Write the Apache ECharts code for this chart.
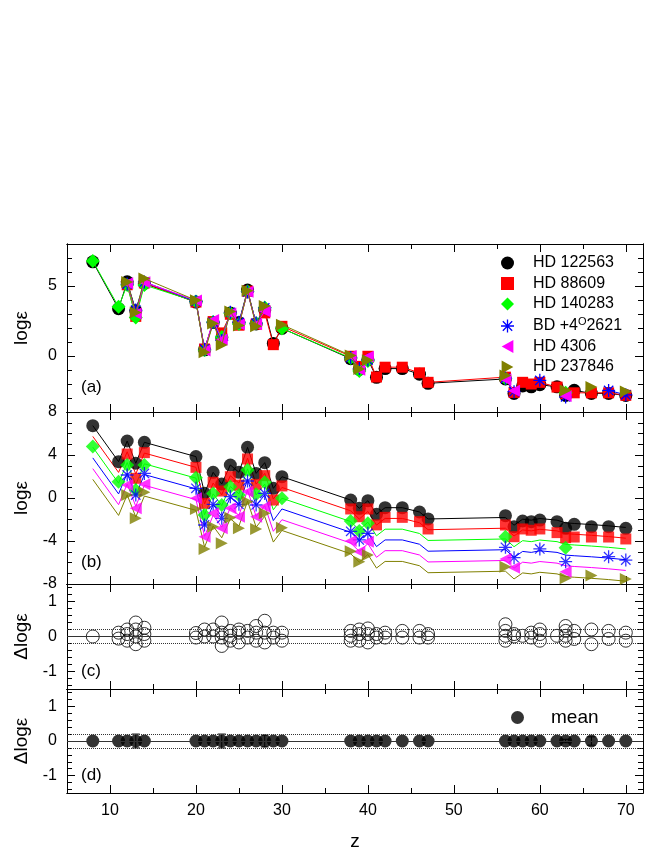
<!DOCTYPE html>
<html>
<head>
<meta charset="utf-8">
<script src="https://cdn.jsdelivr.net/npm/echarts@6/dist/echarts.min.js"></script>
<style>
html, body { margin: 0; padding: 0; background: #fff; }
#chart { width: 664px; height: 853px; }
</style>
</head>
<body>
<div id="chart"></div>
<script>
// atomic numbers
var zList = [8, 11, 12, 13, 14, 20, 21, 22, 23, 24, 25, 26, 27, 28, 29, 30,
  38, 39, 40, 41, 42, 44, 46, 47, 56, 57, 58, 59, 60, 62, 63, 64, 66, 68, 70];

// log eps per star (null = not measured), same order as zList
var hd122563 = [6.73, 3.38, 5.30, 3.23, 5.18, 3.85, 0.44, 2.39, 1.30, 3.07, 2.39, 4.71, 2.29, 3.29, 0.90, 1.98,
  -0.19, -0.96, -0.25, -1.52, -0.90, -0.90, -1.30, -1.95, -1.64, -2.67, -2.14, -2.20, -2.05, -2.20, -2.82, -2.45, -2.67, -2.67, -2.82];
var hd88609 = [null, null, 5.09, 2.83, 5.22, 3.85, 0.50, 2.46, 1.65, 2.98, 2.20, 4.63, 2.27, 3.08, 0.81, 2.12,
  -0.02, -0.74, -0.02, -1.50, -0.80, -0.80, -1.20, -1.88, -1.51, -2.60, -1.88, -2.00, -1.88, -2.22, -2.69, -2.63, -2.63, -2.63, -2.81];
var hd140283 = [6.78, 3.52, 5.07, 2.75, 5.07, 3.89, 0.42, 2.43, 1.35, 3.05, 2.28, 4.60, 2.34, 3.46, null, 1.97,
  -0.14, -1.07, -0.36, null, null, null, null, null, -1.60, null, null, null, null, null, -2.62, null, null, null, null];
var bd4_2621 = [null, null, 5.14, 3.28, 5.29, 3.90, 0.49, 2.41, 1.11, 3.12, 2.41, 4.58, 2.35, 3.43, null, null,
  -0.10, -0.90, -0.29, null, null, null, null, null, -1.59, -2.55, null, null, -1.74, null, -2.92, null, null, -2.46, -2.77];
var hd4306 = [null, null, 5.20, 3.04, 5.27, 3.97, 0.40, 2.57, 1.18, 3.04, 2.26, 4.59, 2.26, 3.19, null, null,
  0.00, -0.99, -0.06, null, null, null, null, null, -1.67, -2.48, null, null, null, null, -2.85, null, null, null, null];
var hd237846 = [null, null, 5.28, 3.11, 5.53, 3.98, 0.26, 2.33, 0.78, 3.17, 2.18, 4.66, 2.12, 3.57, null, 2.24,
  0.04, -0.92, -0.30, null, null, null, null, null, -1.39, null, null, null, null, null, -2.47, null, -2.22, null, -2.53];

// scaled pattern drawn as lines in panel (b)
var patternLine = [6.73, 3.38, 5.30, 3.23, 5.18, 3.85, 0.44, 2.39, 1.30, 3.07, 2.39, 4.71, 2.29, 3.29, 0.90, 1.98,
  -0.19, -0.96, -0.25, -1.52, -0.90, -0.90, -1.30, -1.95, -1.81, -2.53, -1.97, -2.06, -1.91, -2.06, -2.31, -2.37, -2.47, -2.59, -2.74];

// vertical shifts used in panel (b)
var shifts = [0, -1, -2, -3, -4, -5];

// panel (c): residuals at each Z
var residuals = [[0.0], [0.11, -0.06], [0.2, 0.07, -0.12], [0.4, 0.2, 0.0, -0.22], [0.25, 0.07, -0.12],
  [0.1, -0.03], [0.2, 0.0], [0.2, 0.0], [0.4, 0.11, -0.03, -0.27], [0.16, 0.02, -0.12],
  [0.2, 0.11, -0.17], [0.16, -0.03], [0.3, 0.11, -0.12], [0.45, 0.11, -0.17], [0.11, -0.03], [0.11, -0.12],
  [0.16, 0.02, -0.12], [0.2, 0.07, -0.12], [0.23, 0.07, -0.17], [0.07, -0.03], [0.11, -0.03],
  [0.16, -0.03], [0.16, -0.03], [0.07, -0.03],
  [0.35, 0.16, 0.02, -0.12], [0.07, 0.0], [0.02], [0.11, -0.03], [0.2, 0.07, -0.12], [0.02],
  [0.3, 0.16, 0.02, -0.12], [0.16, -0.07], [0.2, -0.22], [0.16, -0.07], [0.11, -0.12]];

// panel (d): mean residual and error
var meanVals = [0, 0, 0, 0, 0, 0, 0, 0, 0, 0, 0, 0, 0, 0, 0, 0,
  0, 0, 0, 0, 0, 0, 0, 0, 0, 0, 0, 0, 0, 0, 0, 0, 0, 0, 0];
var meanErr = [null, null, null, 0.2, null, null, null, null, 0.2, null, null, null, null, 0.17, null, null,
  null, null, null, null, null, null, null, null, null, null, null, null, null, null, 0.05, null, 0.12, null, null];

var starNames = ['HD 122563', 'HD 88609', 'HD 140283', 'BD +4\u00b02621', 'HD 4306', 'HD 237846'];
var starData = [hd122563, hd88609, hd140283, bd4_2621, hd4306, hd237846];
var colors = ['#000000', '#ff0000', '#00ff00', '#0000ff', '#ff00ff', '#808000'];
var asterisk = 'path://M0,9L20,9L20,11L0,11Z M9,0L11,0L11,20L9,20Z M2.1,3.5L3.5,2.1L17.9,16.5L16.5,17.9Z M16.5,2.1L17.9,3.5L3.5,17.9L2.1,16.5Z';
var symbols = ['circle', 'rect', 'diamond', asterisk, 'path://M0,5L9,0L9,10Z', 'path://M9,5L0,0L0,10Z'];
var sizes = [13, 11, 14, 13, 12, 12];

var FONT = 'Liberation Sans';
var grids = [
  { left: 67, width: 576, top: 244, height: 168 },
  { left: 67, width: 576, top: 412, height: 172 },
  { left: 67, width: 576, top: 584, height: 105 },
  { left: 67, width: 576, top: 689, height: 104 }
];

function range(a, b, step) {
  var out = [];
  for (var v = a; v <= b + 1e-9; v += step) out.push(Math.round(v * 100) / 100);
  return out;
}
function without(list, skip) {
  return list.filter(function (v) { return skip.indexOf(v) < 0; });
}

var xMajor = range(10, 70, 10);
var xMinor = range(5, 65, 10);
var xAxes = [];
var yAxes = [];

function addX(gi, pos, ticks, len, labels, name) {
  xAxes.push({
    gridIndex: gi, type: 'value', min: 5, max: 72, position: pos,
    name: name || '', nameLocation: 'middle', nameGap: 39,
    nameTextStyle: { fontFamily: FONT, fontSize: 19, color: '#000' },
    axisLine: { show: true, onZero: false, lineStyle: { color: '#000', width: 1 } },
    axisTick: { show: true, inside: true, length: len, customValues: ticks, lineStyle: { color: '#000' } },
    axisLabel: labels ? { show: true, customValues: labels, margin: 10, fontFamily: FONT, fontSize: 16, color: '#000' } : { show: false },
    splitLine: { show: false }
  });
}
function addY(gi, pos, min, max, ticks, len, labels, name) {
  yAxes.push({
    gridIndex: gi, type: 'value', min: min, max: max, position: pos,
    name: name || '', nameLocation: 'middle', nameGap: 36, nameRotate: 90,
    nameTextStyle: { fontFamily: FONT, fontSize: 19, color: '#000' },
    axisLine: { show: true, onZero: false, lineStyle: { color: '#000', width: 1 } },
    axisTick: { show: true, inside: true, length: len, customValues: ticks, lineStyle: { color: '#000' } },
    axisLabel: labels ? { show: true, customValues: labels, margin: 10, fontFamily: FONT, fontSize: 16, color: '#000' } : { show: false },
    splitLine: { show: false }
  });
}

var ySpecs = [
  { min: -4, max: 8, major: [0, 5], minor: without(range(-3, 7, 1), [0, 5]), name: 'log\u03b5' },
  { min: -8, max: 8, major: [-8, -4, 0, 4, 8], minor: without(range(-7, 7, 1), [-4, 0, 4]), name: 'log\u03b5' },
  { min: -1.5, max: 1.5, major: [-1, 0, 1], minor: without(range(-1.4, 1.4, 0.2), [-1, 0, 1]), name: '\u0394log\u03b5' },
  { min: -1.5, max: 1.5, major: [-1, 0, 1], minor: without(range(-1.4, 1.4, 0.2), [-1, 0, 1]), name: '\u0394log\u03b5' }
];

for (var g = 0; g < 4; g++) {
  // axis index 4*g is the main one for each grid
  addX(g, 'bottom', xMajor, 8, g === 3 ? xMajor : null, g === 3 ? 'z' : '');
  addX(g, 'bottom', xMinor, 5, null);
  addX(g, 'top', xMajor, 8, null);
  addX(g, 'top', xMinor, 5, null);
  var s = ySpecs[g];
  addY(g, 'left', s.min, s.max, s.major, 8, s.major, s.name);
  addY(g, 'left', s.min, s.max, s.minor, 5, null);
  addY(g, 'right', s.min, s.max, s.major, 8, null);
  addY(g, 'right', s.min, s.max, s.minor, 5, null);
}

function pairs(vals, shift) {
  return zList.map(function (z, i) {
    return vals[i] === null ? [z, '-'] : [z, Math.round((vals[i] + shift) * 100) / 100];
  });
}
function points(vals, shift) {
  var out = [];
  zList.forEach(function (z, i) {
    if (vals[i] !== null) out.push([z, vals[i] + shift]);
  });
  return out;
}

var series = [];
// panel (a)
starData.forEach(function (vals, k) {
  series.push({
    name: starNames[k], type: 'line', xAxisIndex: 0, yAxisIndex: 0,
    data: pairs(vals, 0), connectNulls: false,
    symbol: symbols[k], symbolSize: sizes[k],
    itemStyle: { color: colors[k] },
    lineStyle: { color: colors[k], width: 1 },
    animation: false, z: 3 + k
  });
});
// panel (b): shifted pattern lines
shifts.forEach(function (sh, k) {
  series.push({
    name: 'pattern' + k, type: 'line', xAxisIndex: 4, yAxisIndex: 4,
    data: pairs(patternLine, sh), showSymbol: false, symbol: 'none',
    lineStyle: { color: colors[k], width: 1 }, animation: false, z: 2
  });
});
starData.forEach(function (vals, k) {
  series.push({
    name: starNames[k], type: 'scatter', xAxisIndex: 4, yAxisIndex: 4,
    data: points(vals, shifts[k]),
    symbol: symbols[k], symbolSize: sizes[k],
    itemStyle: { color: colors[k] }, animation: false, z: 3 + k
  });
});
// panel (c)
var resPts = [];
zList.forEach(function (z, i) {
  residuals[i].forEach(function (v) { resPts.push([z, v]); });
});
var refLines = {
  silent: true, symbol: 'none', label: { show: false },
  data: [
    { yAxis: 0, lineStyle: { color: '#333', width: 1, type: 'solid' } },
    { yAxis: 0.2, lineStyle: { color: '#333', width: 1, type: 'dotted' } },
    { yAxis: -0.2, lineStyle: { color: '#333', width: 1, type: 'dotted' } }
  ]
};
series.push({
  name: 'residual', type: 'scatter', xAxisIndex: 8, yAxisIndex: 8,
  data: resPts, symbol: 'circle', symbolSize: 13,
  itemStyle: { color: 'rgba(255,255,255,0)', borderColor: '#000', borderWidth: 1 },
  markLine: refLines, animation: false
});
// panel (d)
series.push({
  name: 'mean', type: 'scatter', xAxisIndex: 12, yAxisIndex: 12,
  data: zList.map(function (z, i) { return [z, meanVals[i]]; }),
  symbol: 'circle', symbolSize: 13, itemStyle: { color: '#000' },
  markLine: refLines, animation: false, z: 4
});
var errPts = [];
zList.forEach(function (z, i) {
  if (meanErr[i] !== null) errPts.push([z, meanVals[i], meanErr[i]]);
});
series.push({
  name: 'err', type: 'custom', xAxisIndex: 12, yAxisIndex: 12, data: errPts, z: 3,
  renderItem: function (params, api) {
    var x = api.value(0), y = api.value(1), e = api.value(2);
    var hi = api.coord([x, y + e]);
    var lo = api.coord([x, y - e]);
    var st = { stroke: '#000', lineWidth: 1 };
    return {
      type: 'group', children: [
        { type: 'line', shape: { x1: hi[0], y1: hi[1], x2: lo[0], y2: lo[1] }, style: st },
        { type: 'line', shape: { x1: hi[0] - 4, y1: hi[1], x2: hi[0] + 4, y2: hi[1] }, style: st },
        { type: 'line', shape: { x1: lo[0] - 4, y1: lo[1], x2: lo[0] + 4, y2: lo[1] }, style: st }
      ]
    };
  },
  animation: false
});

var panelTags = [['(a)', 389], ['(b)', 564], ['(c)', 673], ['(d)', 777]];

var chart = echarts.init(document.getElementById('chart'));
chart.setOption({
  backgroundColor: '#fff',
  animation: false,
  grid: grids,
  xAxis: xAxes,
  yAxis: yAxes,
  legend: [{
    data: starNames.map(function (n, k) { return { name: n, icon: symbols[k] }; }),
    orient: 'vertical', left: 496, top: 250,
    itemWidth: 13, itemHeight: 13, itemGap: 4.5,
    selectedMode: false,
    formatter: function (n) { return n.indexOf('BD') === 0 ? 'BD +4{sup|O}2621' : n; },
    textStyle: {
      fontFamily: FONT, fontSize: 16, color: '#000', padding: [0, 0, 0, 14],
      rich: { sup: { fontFamily: FONT, fontSize: 11, color: '#000', padding: [0, 0, 8, 0] } }
    }
  }, {
    data: [{ name: 'mean', icon: 'circle' }],
    left: 506, top: 703, itemWidth: 13, itemHeight: 13,
    selectedMode: false,
    textStyle: { fontFamily: FONT, fontSize: 19, color: '#000', padding: [0, 0, 0, 22] }
  }],
  graphic: panelTags.map(function (t) {
    return {
      type: 'text', left: 81, top: t[1] - 10,
      style: { text: t[0], font: '17px "Liberation Sans"', fill: '#000' }
    };
  }),
  series: series
});
</script>
</body>
</html>
